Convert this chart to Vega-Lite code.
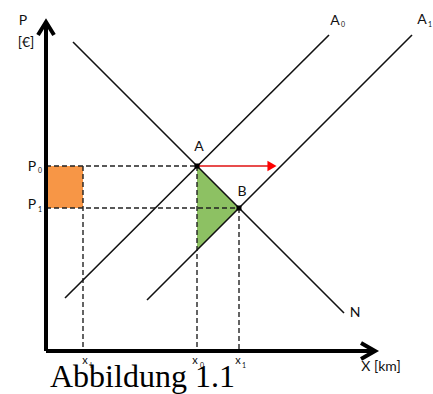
{
  "$schema": "https://vega.github.io/schema/vega-lite/v6.json",
  "width": 433,
  "height": 394,
  "autosize": {"type": "none"},
  "padding": 0,
  "background": "white",
  "config": {"view": {"stroke": null}},
  "datasets": {
    "curves": [
      {"id": "A0", "i": 0, "x": 19, "y": 53},
      {"id": "A0", "i": 1, "x": 283, "y": 316},
      {"id": "A1", "i": 0, "x": 101, "y": 51},
      {"id": "A1", "i": 1, "x": 366, "y": 316},
      {"id": "N", "i": 0, "x": 27, "y": 309},
      {"id": "N", "i": 1, "x": 298, "y": 38}
    ],
    "guides": [
      {"id": "P0", "i": 0, "x": 0, "y": 185},
      {"id": "P0", "i": 1, "x": 151, "y": 185},
      {"id": "P1", "i": 0, "x": 0, "y": 143},
      {"id": "P1", "i": 1, "x": 193, "y": 143},
      {"id": "xI", "i": 0, "x": 37, "y": 185},
      {"id": "xI", "i": 1, "x": 37, "y": 0},
      {"id": "x0", "i": 0, "x": 151, "y": 185},
      {"id": "x0", "i": 1, "x": 151, "y": 0},
      {"id": "x1", "i": 0, "x": 193, "y": 143},
      {"id": "x1", "i": 1, "x": 193, "y": 0}
    ],
    "axes": [
      {"id": "P", "i": 0, "x": 0, "y": 0},
      {"id": "P", "i": 1, "x": 0, "y": 329},
      {"id": "Phead", "i": 0, "x": -8, "y": 316},
      {"id": "Phead", "i": 1, "x": 0, "y": 329},
      {"id": "Phead", "i": 2, "x": 8, "y": 316},
      {"id": "X", "i": 0, "x": 0, "y": 0},
      {"id": "X", "i": 1, "x": 329, "y": 0},
      {"id": "Xhead", "i": 0, "x": 315, "y": 8},
      {"id": "Xhead", "i": 1, "x": 329, "y": 0},
      {"id": "Xhead", "i": 2, "x": 315, "y": -8}
    ],
    "loss": [{"x": 0, "x2": 37, "y": 143, "y2": 185}],
    "gain": [
      {"x": 151, "y": 185, "y2": 101},
      {"x": 193, "y": 143, "y2": 143}
    ],
    "shift": [
      {"i": 0, "x": 151, "y": 185},
      {"i": 1, "x": 224, "y": 185}
    ],
    "shiftHead": [{"x": 226, "y": 185}],
    "equilibria": [
      {"t": "A", "x": 151, "y": 185},
      {"t": "B", "x": 193, "y": 143}
    ],
    "labels": [
      {"t": "P", "x": -23, "y": 330},
      {"t": "[€]", "x": -20, "y": 308},
      {"t": "P", "x": -14, "y": 184},
      {"t": "P", "x": -14, "y": 146},
      {"t": "A", "x": 153, "y": 204},
      {"t": "B", "x": 196, "y": 159},
      {"t": "A", "x": 289, "y": 330},
      {"t": "A", "x": 376, "y": 331},
      {"t": "N", "x": 309, "y": 38},
      {"t": "X [km]", "x": 335, "y": -16}
    ],
    "xlabels": [
      {"t": "x", "x": 39, "y": -10},
      {"t": "x", "x": 149, "y": -10},
      {"t": "x", "x": 192, "y": -10}
    ],
    "subs": [
      {"t": "0", "x": -6, "y": 180},
      {"t": "1", "x": -6, "y": 141},
      {"t": "0", "x": 297, "y": 326},
      {"t": "1", "x": 384, "y": 326},
      {"t": "I", "x": 45, "y": -15},
      {"t": "0", "x": 156, "y": -15},
      {"t": "1", "x": 198, "y": -15}
    ],
    "caption": [{"t": "Abbildung 1.1", "x": 4, "y": -36}]
  },
  "encoding": {
    "x": {"field": "x", "type": "quantitative", "scale": {"domain": [-46, 387], "nice": false, "zero": false}, "axis": null},
    "y": {"field": "y", "type": "quantitative", "scale": {"domain": [-43, 351], "nice": false, "zero": false}, "axis": null}
  },
  "layer": [
    {
      "data": {"name": "loss"},
      "mark": {"type": "rect", "color": "#F79646"},
      "encoding": {"x2": {"field": "x2"}, "y2": {"field": "y2"}}
    },
    {
      "data": {"name": "gain"},
      "mark": {"type": "area", "color": "#8DC163", "opacity": 1},
      "encoding": {"y2": {"field": "y2"}}
    },
    {
      "data": {"name": "guides"},
      "mark": {"type": "line", "color": "#222222", "strokeWidth": 1.4, "strokeDash": [5, 3]},
      "encoding": {"detail": {"field": "id"}, "order": {"field": "i"}}
    },
    {
      "data": {"name": "curves"},
      "mark": {"type": "line", "color": "#111111", "strokeWidth": 1.6},
      "encoding": {"detail": {"field": "id"}, "order": {"field": "i"}}
    },
    {
      "data": {"name": "axes"},
      "mark": {"type": "line", "color": "black", "strokeWidth": 4, "strokeJoin": "miter", "strokeCap": "butt"},
      "encoding": {"detail": {"field": "id"}, "order": {"field": "i"}}
    },
    {
      "data": {"name": "shift"},
      "mark": {"type": "line", "color": "#E01010", "strokeWidth": 1.6},
      "encoding": {"order": {"field": "i"}}
    },
    {
      "data": {"name": "shiftHead"},
      "mark": {"type": "point", "shape": "triangle-right", "filled": true, "color": "#FF0000", "size": 110, "opacity": 1}
    },
    {
      "data": {"name": "equilibria"},
      "mark": {"type": "point", "shape": "square", "filled": true, "color": "black", "size": 25, "opacity": 1}
    },
    {
      "data": {"name": "labels"},
      "mark": {"type": "text", "font": "Lato", "fontSize": 14, "color": "#111111", "align": "center", "baseline": "middle"},
      "encoding": {"text": {"field": "t"}}
    },
    {
      "data": {"name": "xlabels"},
      "mark": {"type": "text", "font": "Lato", "fontSize": 11, "color": "#111111", "align": "center", "baseline": "middle"},
      "encoding": {"text": {"field": "t"}}
    },
    {
      "data": {"name": "subs"},
      "mark": {"type": "text", "font": "Lato", "fontSize": 7, "color": "#111111", "align": "center", "baseline": "middle"},
      "encoding": {"text": {"field": "t"}}
    },
    {
      "data": {"name": "caption"},
      "mark": {"type": "text", "font": "Liberation Serif", "fontSize": 32, "color": "black", "align": "left", "baseline": "alphabetic"},
      "encoding": {"text": {"field": "t"}}
    }
  ]
}
